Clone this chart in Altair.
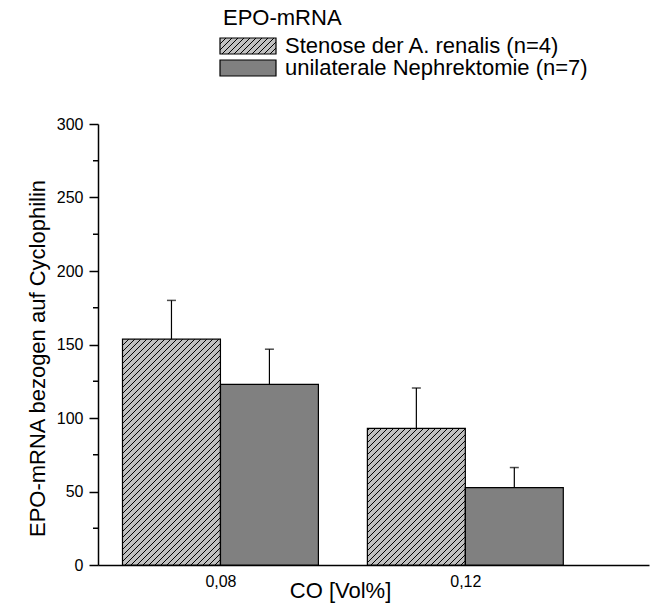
import math
import altair as alt
import pandas as pd

# ---------------- data ----------------
CO = [0.08, 0.12]
SERIES = ["Stenose der A. renalis (n=4)", "unilaterale Nephrektomie (n=7)"]
MEAN_STENOSE = [153.6, 92.9]
MEAN_NEPHR = [122.9, 52.7]
ERR_STENOSE = [26.4, 27.5]
ERR_NEPHR = [23.9, 13.6]
Y_TICKS = [0, 50, 100, 150, 200, 250, 300]
Y_MINOR = [25, 75, 125, 175, 225, 275]
LEGEND_TITLE = "EPO-mRNA"
X_TITLE = "CO [Vol%]"
Y_TITLE = "EPO-mRNA bezogen auf Cyclophilin"

# ---------------- layout ----------------
W, H = 551, 441
XDOM = [0.06, 0.15]
YDOM = [0, 300]
BW = 0.016                       # bar width in CO units
SX = W / (XDOM[1] - XDOM[0])     # px per CO unit
SY = H / (YDOM[1] - YDOM[0])     # px per y unit
FONT = "Liberation Sans"


def px_to_x(p):
    return XDOM[0] + p / SX


def px_to_y(p):
    return YDOM[1] - p / SY


def hatch_px(x0, x1, y0, y1, step=6.0):
    """'/' hatch segments clipped to a pixel rectangle (y downward)."""
    segs = []
    n0 = math.ceil((x0 + y0) / step)
    n1 = math.floor((x1 + y1) / step)
    for n in range(n0, n1 + 1):
        c = n * step
        xa = max(x0, c - y1)
        xb = min(x1, c - y0)
        if xb - xa > 0.3:
            segs.append((xa, c - xa, xb, c - xb))
    return segs


rows = []
for i, co in enumerate(CO):
    for s, (means, errs) in enumerate([(MEAN_STENOSE, ERR_STENOSE), (MEAN_NEPHR, ERR_NEPHR)]):
        x_start = co - BW if s == 0 else co
        rows.append(dict(series=SERIES[s], s=s, x_start=x_start, x_end=x_start + BW,
                         x_mid=x_start + BW / 2, mean=means[i], upper=means[i] + errs[i], zero=0))
bars = pd.DataFrame(rows)

# hatch lines for the stenosis bars, derived from the bar data through the scales
hrows = []
for r in rows:
    if r["s"] != 0:
        continue
    x0p = (r["x_start"] - XDOM[0]) * SX
    x1p = (r["x_end"] - XDOM[0]) * SX
    ytp = (YDOM[1] - r["mean"]) * SY
    for (xa, ya, xb, yb) in hatch_px(x0p, x1p, ytp, H):
        hrows.append(dict(x=px_to_x(xa), y=px_to_y(ya), x2=px_to_x(xb), y2=px_to_y(yb)))
hatch = pd.DataFrame(hrows)

# legend swatches (placed above the plot, in pixel layout converted to scale units)
LEG_X0, LEG_X1 = 122, 178
LEG_Y = [(-86, -70), (-64, -48)]
lrows = []
for s in range(2):
    lrows.append(dict(s=s, series=SERIES[s], x=px_to_x(LEG_X0), x2=px_to_x(LEG_X1),
                      y=px_to_y(LEG_Y[s][0]), y2=px_to_y(LEG_Y[s][1])))
legend = pd.DataFrame(lrows)
lhrows = []
for (xa, ya, xb, yb) in hatch_px(LEG_X0, LEG_X1, LEG_Y[0][0], LEG_Y[0][1]):
    lhrows.append(dict(x=px_to_x(xa), y=px_to_y(ya), x2=px_to_x(xb), y2=px_to_y(yb)))
leg_hatch = pd.DataFrame(lhrows)

# ---------------- encodings ----------------
XS = alt.Scale(domain=XDOM, nice=False, zero=False)
YS = alt.Scale(domain=YDOM, nice=False)
XAX = alt.Axis(values=CO, labelExpr="replace(format(datum.value, '.2f'), '.', ',')",
               tickSize=0, labelPadding=8, grid=False, domainColor="black", domainWidth=1.5,
               labelFontSize=16, labelFont=FONT, labelColor="black", title=None)
YAX = alt.Axis(values=Y_TICKS, tickSize=9, tickWidth=1.5, tickColor="black", labelPadding=6,
               grid=False, domainColor="black", domainWidth=1.5, labelFontSize=16,
               labelFont=FONT, labelColor="black", title=None)


def X(f):
    return alt.X(f, type="quantitative", scale=XS, axis=XAX)


def Y(f):
    return alt.Y(f, type="quantitative", scale=YS, axis=YAX)


FILL = ["#c0c0c0", "#808080"]

bar_fill = alt.Chart(bars).mark_rect(strokeWidth=0).encode(
    x=X("x_start"), x2="x_end", y=Y("zero"), y2="mean",
    fill=alt.Fill("series:N", scale=alt.Scale(domain=SERIES, range=FILL), legend=None))

hatch_lines = alt.Chart(hatch).mark_rule(color="black", strokeWidth=1).encode(
    x=X("x"), y=Y("y"), x2="x2", y2="y2")

bar_outline = alt.Chart(bars).mark_rect(fillOpacity=0, stroke="black", strokeWidth=1.2).encode(
    x=X("x_start"), x2="x_end", y=Y("zero"), y2="mean")

err_line = alt.Chart(bars).mark_rule(color="black", strokeWidth=1.2).encode(
    x=X("x_mid"), y=Y("mean"), y2="upper")

err_cap = alt.Chart(bars).mark_tick(orient="horizontal", size=9, thickness=1.5, color="black").encode(
    x=X("x_mid"), y=Y("upper"))

minor = alt.Chart(pd.DataFrame({"v": Y_MINOR})).mark_rule(color="black", strokeWidth=1.5).encode(
    y=Y("v"), x=alt.value(-5), x2=alt.value(0))

leg_fill = alt.Chart(legend).mark_rect(strokeWidth=0).encode(
    x=X("x"), x2="x2", y=Y("y"), y2="y2",
    fill=alt.Fill("series:N", scale=alt.Scale(domain=SERIES, range=FILL), legend=None))
leg_lines = alt.Chart(leg_hatch).mark_rule(color="black", strokeWidth=1).encode(
    x=X("x"), y=Y("y"), x2="x2", y2="y2")
leg_outline = alt.Chart(legend).mark_rect(fillOpacity=0, stroke="black", strokeWidth=1.2).encode(
    x=X("x"), x2="x2", y=Y("y"), y2="y2")


def label(txt, x, y, **kw):
    return alt.Chart(pd.DataFrame({"t": [txt]})).mark_text(
        font=FONT, fontSize=22, color="black", baseline="alphabetic", **kw).encode(
        x=alt.value(x), y=alt.value(y), text="t:N")


leg_label1 = label(SERIES[0], 187, -70.7, align="left")
leg_label2 = label(SERIES[1], 187, -49, align="left")
leg_title = label(LEGEND_TITLE, 125, -99, align="left")
x_title = label(X_TITLE, 242.5, 474, align="center")
y_title = label(Y_TITLE, -53, 234.5, align="center", angle=270)

chart = alt.layer(
    bar_fill, hatch_lines, bar_outline, err_line, err_cap, minor,
    leg_fill, leg_lines, leg_outline, leg_label1, leg_label2, leg_title, x_title, y_title
).properties(
    width=W, height=H,
    autosize=alt.AutoSizeParams(type="none"),
    padding={"left": 90, "top": 116, "right": 1, "bottom": 38},
    background="white",
).configure_view(stroke=None)

chart.save("out.html", embed_options={"renderer": "svg", "actions": False})
